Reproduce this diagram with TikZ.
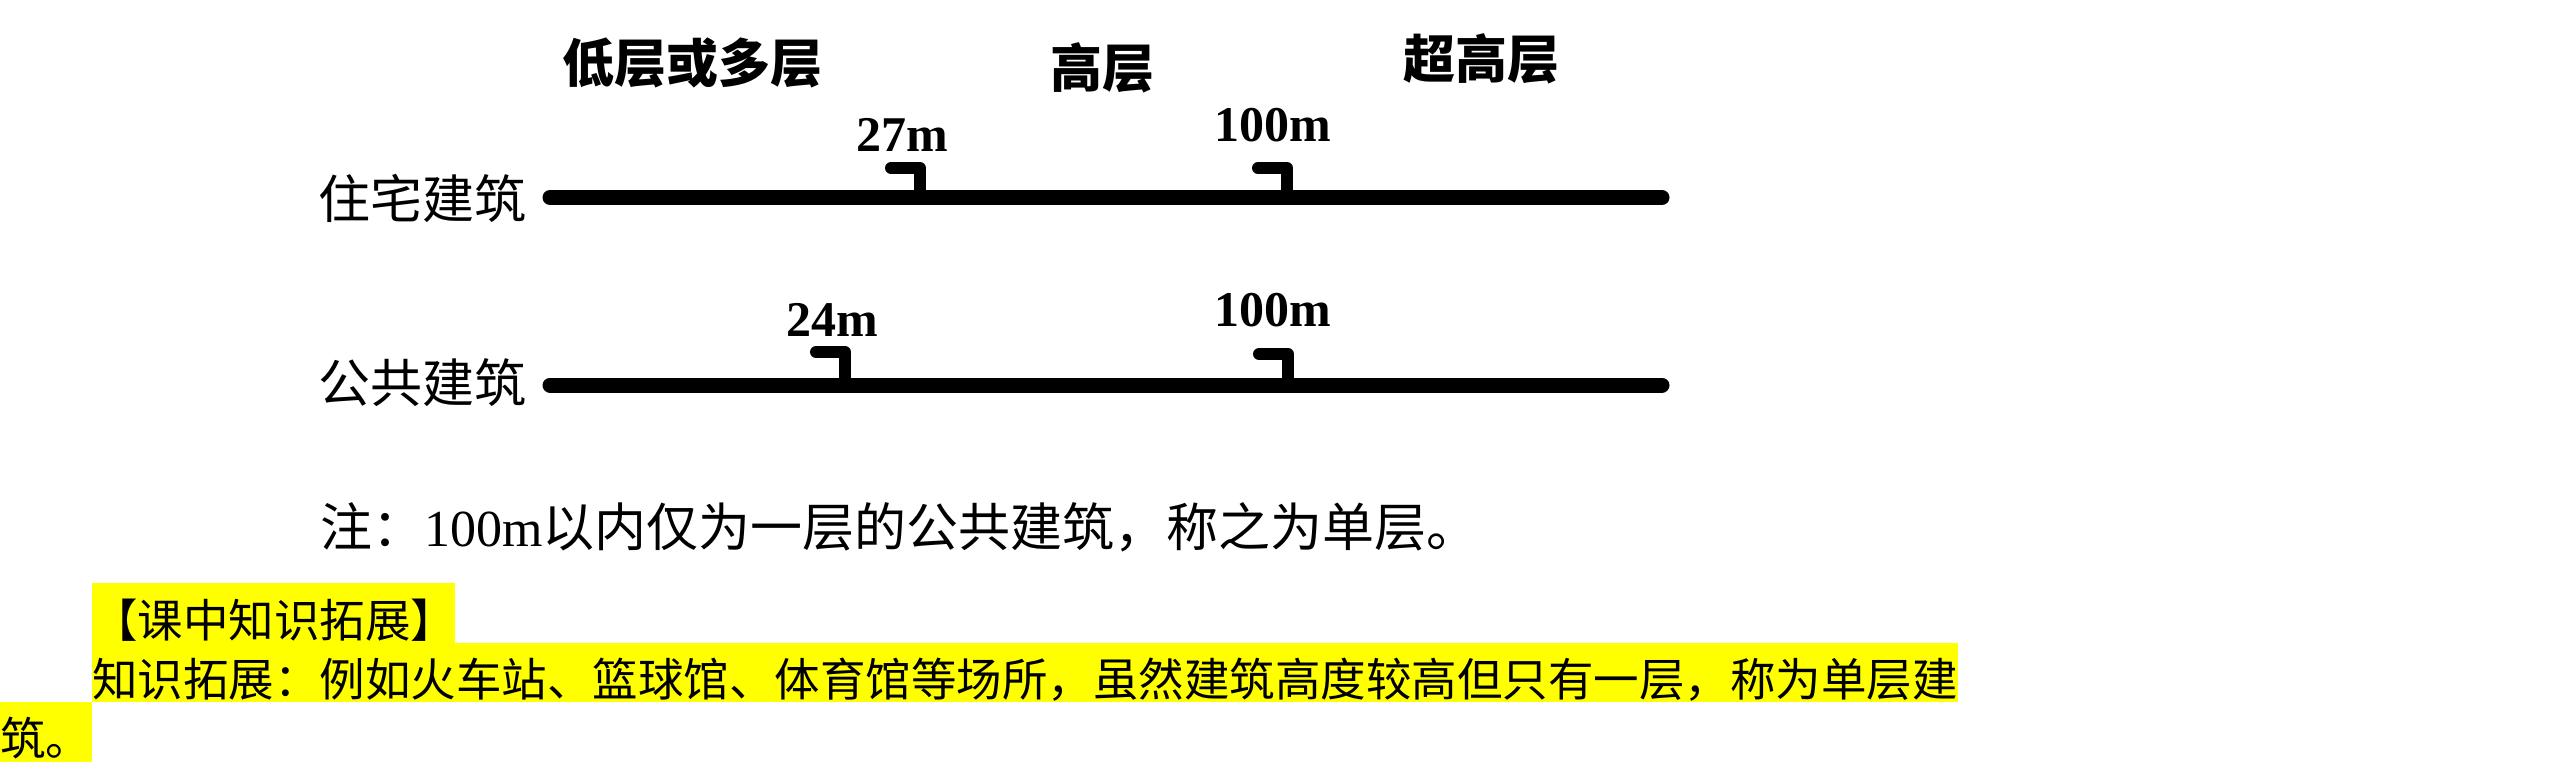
\documentclass[tikz,border=0pt]{standalone}
\usepackage{fontspec}
\setmainfont{Liberation Serif}
\newfontfamily\cjk{Noto Sans CJK SC}
\definecolor{hlyellow}{HTML}{FFFF00}
\tikzset{
  title/.style={font=\cjk\bfseries\fontsize{26}{30}\selectfont, inner sep=0},
  rowlabel/.style={font=\cjk\fontsize{26}{30}\selectfont, inner sep=0},
  ticklabel/.style={font=\bfseries\fontsize{25}{30}\selectfont, inner sep=0},
  axisline/.style={line width=7.5pt, line cap=round},
  hook/.style={line width=6pt, line cap=round, line join=round},
  notetext/.style={font=\fontsize{26}{30}\selectfont, inner sep=0, anchor=west},
  hltext/.style={font=\cjk\fontsize{22.75}{26}\selectfont, inner sep=0, anchor=west},
  hlbox/.style={fill=hlyellow, draw=none}
}
\begin{document}
\begin{tikzpicture}[x=0.5pt, y=-0.5pt]
\useasboundingbox (0,0) rectangle (2560,775);
\fill[white] (0,0) rectangle (2560,775);

% column titles
\node[title] (low) at (692,63) {低层或多层};
\node[title] (high) at (1102,68) {高层};
\node[title] (super) at (1481,59) {超高层};

% row labels
\node[rowlabel, anchor=west] (res) at (318,198) {住宅建筑};
\node[rowlabel, anchor=west] (pub) at (318,383) {公共建筑};

% axis lines
\coordinate (r1s) at (550,197.5);
\coordinate (r1e) at (1662,197.5);
\coordinate (r2s) at (550,385);
\coordinate (r2e) at (1662,385);
\draw[axisline] (r1s) -- (r1e);
\draw[axisline] (r2s) -- (r2e);

% hooks on residential line
\coordinate (h1b) at (920,197.5);
\coordinate (h1t) at (920,168);
\coordinate (h1l) at (891,168);
\draw[hook] (h1b) -- (h1t) -- (h1l);
\coordinate (h2b) at (1287,197.5);
\coordinate (h2t) at (1287,168);
\coordinate (h2l) at (1258,168);
\draw[hook] (h2b) -- (h2t) -- (h2l);

% hooks on public line
\coordinate (h3b) at (845,385);
\coordinate (h3t) at (845,352);
\coordinate (h3l) at (816,352);
\draw[hook] (h3b) -- (h3t) -- (h3l);
\coordinate (h4b) at (1288,385);
\coordinate (h4t) at (1288,354);
\coordinate (h4l) at (1259,354);
\draw[hook] (h4b) -- (h4t) -- (h4l);

% tick labels
\node[ticklabel] (l27) at (902,135) {27m};
\node[ticklabel] (l100a) at (1273,125) {100m};
\node[ticklabel] (l24) at (832,320) {24m};
\node[ticklabel] (l100b) at (1273,310) {100m};

% note
\node[notetext] (note) at (320,527) {{\cjk 注：}100m{\cjk 以内仅为一层的公共建筑，称之为单层。}};

% highlighted extension text
\fill[hlbox] (92,583) rectangle (455,643);
\fill[hlbox] (92,643) rectangle (1958,702);
\fill[hlbox] (0,702) rectangle (92,762);
\node[hltext] (hl1) at (92,620) {【课中知识拓展】};
\node[hltext] (hl2) at (92,680) {知识拓展：例如火车站、篮球馆、体育馆等场所，虽然建筑高度较高但只有一层，称为单层建};
\node[hltext] (hl3) at (0,738) {筑。};
\end{tikzpicture}
\end{document}
